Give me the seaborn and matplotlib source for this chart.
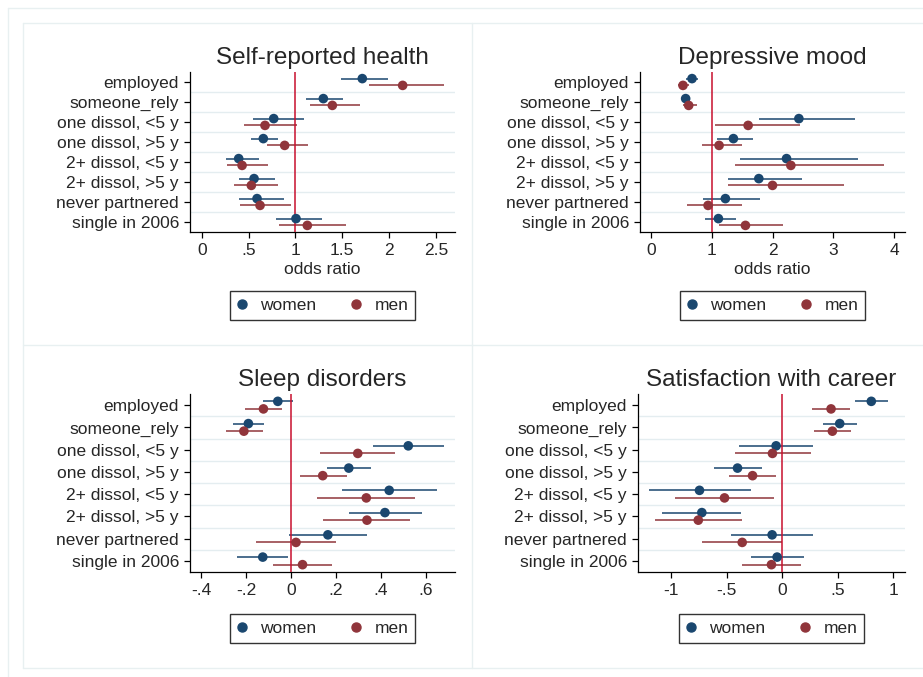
import pandas as pd
import matplotlib.pyplot as plt
import seaborn as sns
from matplotlib.lines import Line2D

sns.set_style('ticks')
plt.rcParams['font.family'] = ['Liberation Sans', 'DejaVu Sans']

# rows of every panel
categories = ['employed', 'someone_rely', 'one dissol, <5 y', 'one dissol, >5 y',
              '2+ dissol, <5 y', '2+ dissol, >5 y', 'never partnered', 'single in 2006']

# Self-reported health (odds ratio)
health_w_est = [1.715, 1.299, 0.769, 0.658, 0.395, 0.559, 0.591, 1.007]
health_w_lo = [1.484, 1.117, 0.548, 0.530, 0.256, 0.399, 0.402, 0.794]
health_w_hi = [1.986, 1.512, 1.089, 0.819, 0.609, 0.786, 0.875, 1.285]
health_m_est = [2.146, 1.395, 0.676, 0.886, 0.431, 0.530, 0.623, 1.128]
health_m_lo = [1.786, 1.160, 0.456, 0.694, 0.267, 0.345, 0.409, 0.829]
health_m_hi = [2.584, 1.687, 1.021, 1.135, 0.705, 0.811, 0.957, 1.537]

# Depressive mood (odds ratio)
mood_w_est = [0.676, 0.571, 2.434, 1.357, 2.231, 1.775, 1.225, 1.110]
mood_w_lo = [0.58, 0.51, 1.775, 1.093, 1.462, 1.275, 0.852, 0.885]
mood_w_hi = [0.78, 0.63, 3.352, 1.681, 3.412, 2.484, 1.791, 1.407]
mood_m_est = [0.527, 0.621, 1.599, 1.121, 2.302, 2.000, 0.940, 1.555]
mood_m_lo = [0.45, 0.52, 1.049, 0.841, 1.390, 1.264, 0.593, 1.121]
mood_m_hi = [0.62, 0.76, 2.445, 1.505, 3.835, 3.181, 1.505, 2.165]

# Sleep disorders
sleep_w_est = [-0.059, -0.190, 0.522, 0.257, 0.437, 0.418, 0.164, -0.126]
sleep_w_lo = [-0.126, -0.259, 0.366, 0.159, 0.228, 0.256, -0.009, -0.239]
sleep_w_hi = [0.009, -0.119, 0.680, 0.358, 0.651, 0.584, 0.338, -0.012]
sleep_m_est = [-0.123, -0.210, 0.297, 0.141, 0.335, 0.338, 0.022, 0.051]
sleep_m_lo = [-0.207, -0.291, 0.129, 0.040, 0.114, 0.144, -0.155, -0.079]
sleep_m_hi = [-0.039, -0.126, 0.465, 0.247, 0.553, 0.531, 0.201, 0.181]

# Satisfaction with career
career_w_est = [0.802, 0.518, -0.054, -0.401, -0.743, -0.722, -0.090, -0.045]
career_w_lo = [0.656, 0.371, -0.392, -0.614, -1.198, -1.081, -0.461, -0.284]
career_w_hi = [0.949, 0.671, 0.281, -0.183, -0.281, -0.368, 0.281, 0.198]
career_m_est = [0.440, 0.452, -0.087, -0.266, -0.518, -0.754, -0.359, -0.096]
career_m_lo = [0.272, 0.287, -0.428, -0.476, -0.961, -1.147, -0.719, -0.359]
career_m_hi = [0.608, 0.620, 0.257, -0.057, -0.072, -0.359, 0.000, 0.171]

# x ticks
health_ticks = [0, 0.5, 1, 1.5, 2, 2.5]
health_ticklabels = ['0', '.5', '1', '1.5', '2', '2.5']
mood_ticks = [0, 1, 2, 3, 4]
mood_ticklabels = ['0', '1', '2', '3', '4']
sleep_ticks = [-0.4, -0.2, 0, 0.2, 0.4, 0.6]
sleep_ticklabels = ['-.4', '-.2', '0', '.2', '.4', '.6']
career_ticks = [-1, -0.5, 0, 0.5, 1]
career_ticklabels = ['-1', '-.5', '0', '.5', '1']

navy = '#1a476f'
maroon = '#90353b'
refred = '#c8102e'
gridc = '#e4edf0'
framec = '#e8f0f1'
fs = 12.5

panels = [
    dict(title='Self-reported health', w=(health_w_est, health_w_lo, health_w_hi),
         m=(health_m_est, health_m_lo, health_m_hi), ref=1, xlim=(-0.125, 2.705),
         ticks=health_ticks, labels=health_ticklabels, xlabel='odds ratio',
         rect=[190, 72, 455, 232], leg=-0.459),
    dict(title='Depressive mood', w=(mood_w_est, mood_w_lo, mood_w_hi),
         m=(mood_m_est, mood_m_lo, mood_m_hi), ref=1, xlim=(-0.18, 4.18),
         ticks=mood_ticks, labels=mood_ticklabels, xlabel='odds ratio',
         rect=[640, 72, 905, 232], leg=-0.459),
    dict(title='Sleep disorders', w=(sleep_w_est, sleep_w_lo, sleep_w_hi),
         m=(sleep_m_est, sleep_m_lo, sleep_m_hi), ref=0, xlim=(-0.45, 0.73),
         ticks=sleep_ticks, labels=sleep_ticklabels, xlabel='',
         rect=[190, 394, 455, 572], leg=-0.319),
    dict(title='Satisfaction with career', w=(career_w_est, career_w_lo, career_w_hi),
         m=(career_m_est, career_m_lo, career_m_hi), ref=0, xlim=(-1.296, 1.105),
         ticks=career_ticks, labels=career_ticklabels, xlabel='',
         rect=[638, 394, 905, 572], leg=-0.319),
]

W, H = 923, 677
fig = plt.figure(figsize=(W / 100, H / 100), dpi=100)

# faint frame lines of the combined graph (pixel coords)
for x0, y0, x1, y1 in [(8, 8, 8, 677), (8, 8, 923, 8), (23, 23, 23, 668), (472, 23, 472, 668),
                       (23, 23, 923, 23), (23, 345, 923, 345), (23, 668, 923, 668)]:
    fig.add_artist(Line2D([x0 / W, x1 / W], [1 - y0 / H, 1 - y1 / H],
                          transform=fig.transFigure, color=framec, linewidth=1.0))

off = 0.17
for p in panels:
    l, t, r, b = p['rect']
    ax = fig.add_axes([l / W, 1 - b / H, (r - l) / W, (b - t) / H])
    rows = []
    for sex, vals, sgn in [('women', p['w'], -1), ('men', p['m'], 1)]:
        for i, c in enumerate(categories):
            rows.append(dict(cat=c, pos=i + sgn * off, sex=sex,
                             est=vals[0][i], lo=vals[1][i], hi=vals[2][i]))
    df = pd.DataFrame(rows)

    for g in range(len(categories) - 1):
        ax.axhline(g + 0.5, color=gridc, linewidth=1.0, zorder=0)
    for sex, col in [('women', navy), ('men', maroon)]:
        d = df[df.sex == sex]
        ax.hlines(d.pos, d.lo, d.hi, color=col, linewidth=1.1, zorder=2)
    ax.axvline(p['ref'], color=refred, linewidth=1.1, zorder=3)
    sns.scatterplot(data=df, x='est', y='pos', hue='sex', palette={'women': navy, 'men': maroon},
                    s=48, edgecolor='none', legend=False, ax=ax, zorder=4)

    ax.set_ylim(len(categories) - 0.5, -0.5)
    ax.set_yticks(range(len(categories)))
    ax.set_yticklabels(categories, fontsize=fs)
    ax.set_xlim(*p['xlim'])
    ax.set_xticks(p['ticks'])
    ax.set_xticklabels(p['labels'], fontsize=fs)
    ax.set_xlabel(p['xlabel'], fontsize=fs, labelpad=3)
    ax.set_ylabel('')
    ax.set_title(p['title'], fontsize=17.5, pad=6)
    ax.tick_params(axis='both', length=4, width=0.9, color='black', pad=4)
    for s in ['top', 'right']:
        ax.spines[s].set_visible(False)
    for s in ['left', 'bottom']:
        ax.spines[s].set_color('black')
        ax.spines[s].set_linewidth(0.9)

    handles = [Line2D([], [], marker='o', linestyle='none', color=navy, markersize=6.5),
               Line2D([], [], marker='o', linestyle='none', color=maroon, markersize=6.5)]
    leg = ax.legend(handles, ['women', 'men'], ncol=2, loc='center',
                    bbox_to_anchor=(0.5, p['leg']), fontsize=fs, frameon=True,
                    fancybox=False, edgecolor='black', borderpad=0.4,
                    handlelength=0.6, handletextpad=0.75, columnspacing=2.0)
    leg.get_frame().set_linewidth(1.0)

fig.savefig('out.png', dpi=100)
